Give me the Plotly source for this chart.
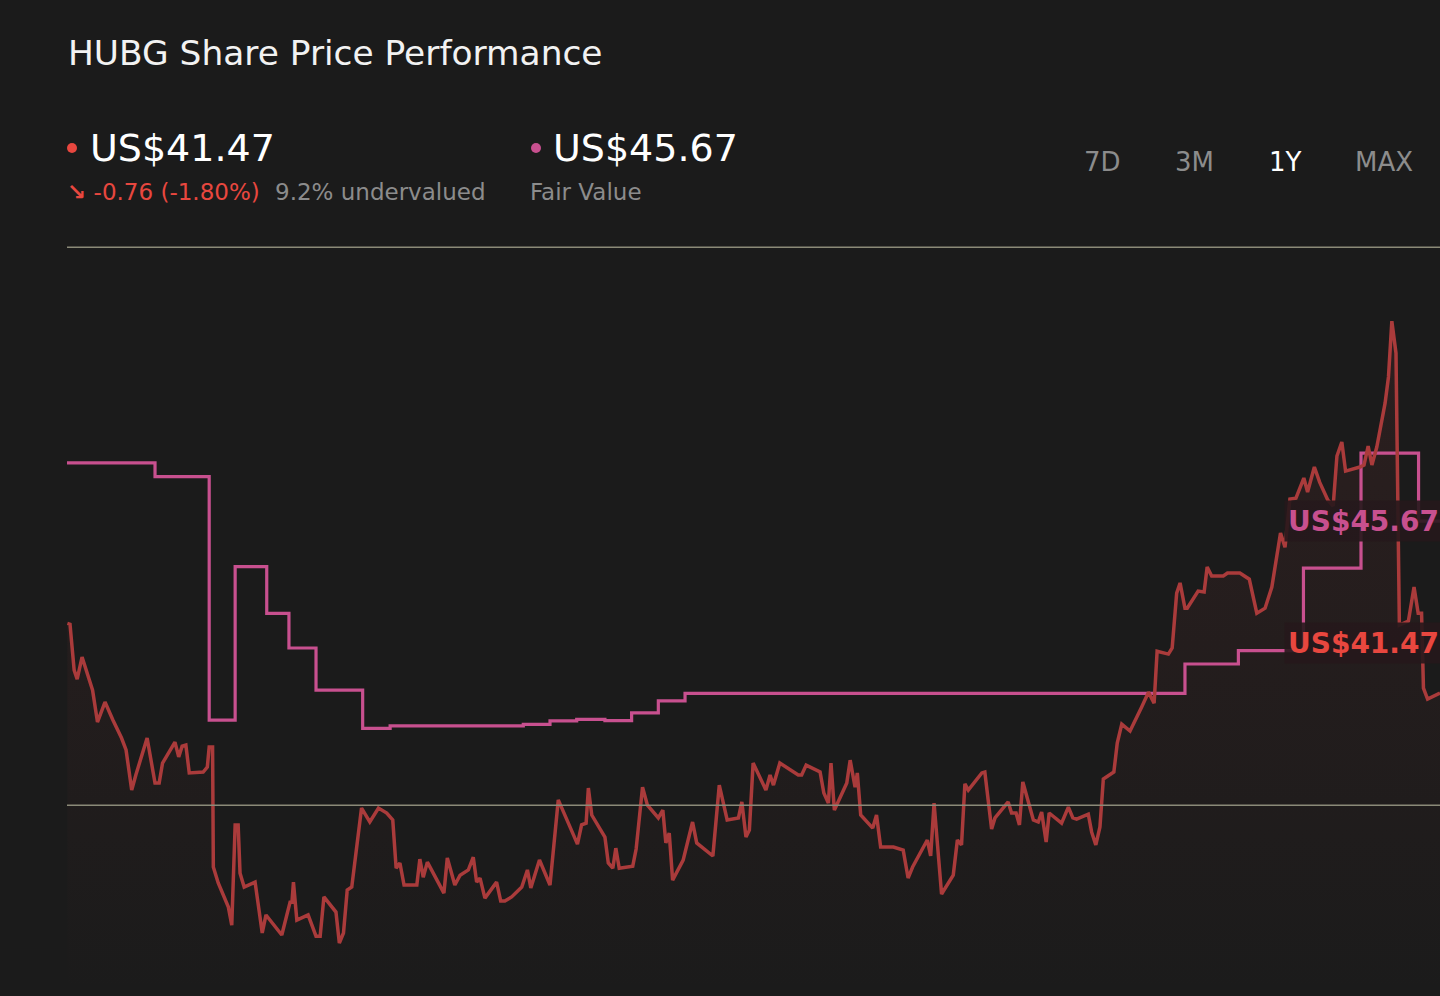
import pandas as pd
import plotly.graph_objects as go

W, H = 1440, 996
ML, MT = 67, 230  # plot area starts here (px)

window_start = pd.Timestamp("2025-02-20")

# daily closes (days since window start, US$)
price_days = [
    0.1, 0.8, 1.9, 2.7, 4.0, 5.4, 6.8, 8.1, 10.1, 12.2,
    14.5, 15.7, 17.2, 18.3, 21.3, 23.4, 24.5, 25.4, 28.7, 29.7,
    30.6, 31.6, 32.5, 36.2, 37.3, 37.8, 38.7, 38.9, 40.2, 42.9,
    43.8, 44.7, 45.5, 46.0, 47.1, 50.0, 51.9, 52.9, 57.1, 59.3,
    59.8, 60.2, 61.1, 64.1, 66.2, 67.3, 68.3, 71.5, 72.4, 73.5,
    74.5, 75.7, 78.3, 80.5, 82.8, 85.0, 86.6, 87.5, 88.5, 89.6,
    93.0, 93.8, 94.7, 95.8, 100.2, 101.1, 103.1, 104.5, 106.7, 108.0,
    108.9, 109.8, 111.1, 114.2, 115.3, 116.4, 118.2, 120.9, 122.4, 123.3,
    125.6, 128.4, 130.6, 135.7, 136.8, 138.0, 138.6, 139.5, 143.0, 143.9,
    145.1, 145.9, 146.8, 150.4, 151.3, 153.0, 154.3, 157.2, 158.4, 159.2,
    160.1, 161.0, 163.8, 166.3, 167.4, 171.7, 173.4, 175.5, 178.5, 179.4,
    180.5, 181.4, 182.4, 185.8, 186.9, 187.8, 189.5, 194.4, 195.3, 196.5,
    200.2, 201.2, 202.4, 203.1, 204.0, 207.3, 208.2, 209.5, 210.1, 211.0,
    214.2, 215.2, 216.3, 219.7, 222.3, 223.6, 224.8, 228.7, 229.6, 230.5,
    232.5, 235.6, 236.7, 237.8, 238.7, 239.6, 243.2, 244.0, 245.8, 246.7,
    250.2, 251.1, 252.3, 253.2, 254.1, 256.9, 258.2, 259.1, 260.3, 261.1,
    264.4, 266.2, 267.4, 268.4, 271.5, 272.4, 273.5, 274.6, 275.5, 278.3,
    279.2, 280.4, 282.6, 285.7, 287.5, 289.0, 289.8, 292.8, 293.8, 295.0,
    295.9, 297.2, 297.8, 300.7, 302.3, 303.1, 304.3, 307.4, 308.5, 311.8,
    314.3, 316.3, 318.5, 320.3, 321.7, 322.6, 323.8, 325.1, 326.7, 328.8,
    329.8, 331.6, 333.0, 335.2, 336.6, 337.6, 338.9, 339.9, 343.7, 344.8,
    345.9, 346.9, 348.2, 350.4, 351.3, 352.2, 353.3, 354.2, 356.6, 358.1,
    359.2, 360.1, 360.6, 361.7, 365.0,
]
price_values = [
    42.15, 42.12, 40.54, 40.23, 40.99, 40.44, 39.85, 38.75, 39.44, 38.82,
    38.20, 37.79, 36.41, 36.93, 38.20, 36.65, 36.65, 37.34, 38.06, 37.55,
    37.92, 37.96, 37.00, 37.03, 37.20, 37.89, 37.89, 33.76, 33.21, 32.38,
    31.76, 35.21, 35.21, 33.55, 33.07, 33.24, 31.49, 32.11, 31.42, 32.55,
    32.55, 33.24, 31.93, 32.11, 31.38, 31.38, 32.73, 32.21, 31.14, 31.49,
    32.97, 33.07, 35.79, 35.31, 35.79, 35.62, 35.38, 33.72, 33.90, 33.14,
    33.14, 34.03, 33.41, 33.93, 32.86, 34.07, 33.14, 33.48, 33.66, 34.10,
    33.24, 33.38, 32.69, 33.24, 32.59, 32.59, 32.73, 33.07, 33.66, 33.04,
    34.00, 33.14, 36.07, 34.55, 35.21, 35.27, 36.48, 35.55, 34.79, 33.90,
    33.72, 34.41, 33.72, 33.79, 34.38, 36.51, 35.89, 35.45, 35.72, 34.59,
    34.93, 33.31, 34.00, 35.31, 34.59, 34.14, 36.58, 35.38, 35.45, 36.00,
    34.79, 35.03, 37.34, 36.41, 36.93, 36.58, 37.34, 36.93, 36.93, 37.27,
    37.03, 36.31, 35.96, 37.34, 35.72, 36.65, 37.44, 36.51, 37.00, 35.55,
    35.10, 35.55, 34.45, 34.45, 34.34, 33.38, 33.76, 34.69, 34.14, 35.96,
    32.83, 33.48, 34.69, 34.52, 36.62, 36.41, 37.00, 37.03, 35.07, 35.45,
    36.00, 35.62, 35.62, 35.21, 36.69, 35.38, 35.31, 35.65, 34.62, 35.62,
    35.27, 35.82, 35.45, 35.41, 35.58, 34.96, 34.52, 35.14, 36.79, 37.03,
    38.03, 38.68, 38.44, 39.27, 39.78, 39.40, 41.19, 41.09, 41.30, 43.19,
    43.54, 42.67, 42.67, 43.26, 43.23, 44.09, 43.78, 43.78, 43.88, 43.88,
    43.67, 42.50, 42.67, 43.40, 44.43, 45.26, 44.77, 46.43, 46.46, 47.15,
    46.67, 47.53, 47.01, 46.39, 46.19, 47.91, 48.39, 47.39, 47.53, 47.60,
    48.25, 47.60, 48.22, 49.73, 50.63, 52.55, 51.45, 42.09, 42.23, 43.40,
    42.50, 42.50, 39.92, 39.54, 39.75,
]

# fair value estimate steps (day it changed, US$)
fv_days = [0, 23.4, 37.8, 44.7, 53.1, 59.0, 66.2, 78.6, 85.9, 121.3,
           128.4, 135.5, 143.0, 150.1, 157.2, 164.3, 297.2, 311.4, 328.7, 344.0,
           359.3]
fv_values = [47.67, 47.20, 38.82, 44.10, 42.49, 41.30, 39.85, 38.53, 38.62, 38.67,
             38.79, 38.84, 38.80, 39.07, 39.48, 39.74, 40.75, 41.21, 44.05, 48.01,
             45.67]

current_price = 41.47
fair_value = 45.67
change_abs = -0.76
change_pct = -1.80
undervalued_pct = 9.2
guide_levels = [55.10, 35.89]
periods = ["7D", "3M", "1Y", "MAX"]
active_period = "1Y"
y_range = [29.32, 55.69]
window_days = 365

BG = "#1b1b1b"
RED = "#aa3b3b"
RED_TXT = "#e8473f"
PINK = "#c8508f"
GREY = "#8c8c8c"
FONT = "DejaVu Sans"


def px_x(x):
    return (x - ML) / (W - ML)


def px_y(y):
    return (H - y) / (H - MT)


price_x = window_start + pd.to_timedelta(price_days, unit="D")
fv_x = window_start + pd.to_timedelta(fv_days + [window_days], unit="D")
fv_y = fv_values + [fv_values[-1]]

fig = go.Figure()

# soft shading under the price line, fading out downwards
fig.add_trace(go.Scatter(x=price_x, y=price_values, mode="lines", line=dict(width=0),
                         fill="tozeroy", hoverinfo="skip",
                         fillgradient=dict(type="vertical", start=y_range[0], stop=max(price_values),
                                           colorscale=[[0, "rgba(170,60,60,0.0)"],
                                                       [1, "rgba(170,60,60,0.12)"]])))
fig.add_trace(go.Scatter(x=fv_x, y=fv_y, mode="lines", line=dict(color=PINK, width=3.2, shape="hv"),
                         name="Fair Value"))
fig.add_trace(go.Scatter(x=price_x, y=price_values, mode="lines", line=dict(color=RED, width=3.5),
                         name="Share Price"))

for lvl in guide_levels:
    fig.add_hline(y=lvl, line=dict(color="#8b8a78", width=1.5))

ann = []
ann.append(dict(text="HUBG Share Price Performance", x=px_x(66), y=px_y(53), xanchor="left",
                yanchor="middle", font=dict(size=34.4, color="#f2f2f2")))
ann.append(dict(text=f"US${current_price:.2f}", x=px_x(88), y=px_y(148), xanchor="left",
                yanchor="middle", font=dict(size=38, color="#ffffff")))
ann.append(dict(text=f"US${fair_value:.2f}", x=px_x(551), y=px_y(148), xanchor="left",
                yanchor="middle", font=dict(size=38, color="#ffffff")))
ann.append(dict(text=f"<b>↘</b> {change_abs:.2f} ({change_pct:.2f}%)", x=px_x(65), y=px_y(192),
                xanchor="left", yanchor="middle", font=dict(size=23, color=RED_TXT)))
ann.append(dict(text=f"{undervalued_pct}% undervalued", x=px_x(273), y=px_y(192),
                xanchor="left", yanchor="middle", font=dict(size=23, color=GREY)))
ann.append(dict(text="Fair Value", x=px_x(528), y=px_y(192), xanchor="left",
                yanchor="middle", font=dict(size=23, color=GREY)))
for label, cx in zip(periods, [1102, 1194, 1285, 1384]):
    ann.append(dict(text=label, x=px_x(cx), y=px_y(162), xanchor="center", yanchor="middle",
                    font=dict(size=26, color="#ffffff" if label == active_period else GREY)))

# value tags at the right edge
for val, col in [(fair_value, PINK), (current_price, RED_TXT)]:
    ann.append(dict(text=f"<b>US${val:.2f}</b>", x=px_x(1284), xref="paper", y=val, yref="y",
                    xanchor="left", yanchor="middle", font=dict(size=28, color=col),
                    width=190, height=34, align="left", borderpad=3,
                    bgcolor="rgba(38,24,28,0.9)"))

for a in ann:
    a.setdefault("xref", "paper")
    a.setdefault("yref", "paper")
    a["showarrow"] = False
    fig.add_annotation(**a)

for cx, col in [(72, RED_TXT), (536, PINK)]:
    fig.add_shape(type="circle", xref="paper", yref="paper", xsizemode="pixel", ysizemode="pixel",
                  xanchor=px_x(cx), yanchor=px_y(148), x0=-5, x1=5, y0=-5, y1=5,
                  fillcolor=col, line=dict(width=0))

fig.update_layout(
    width=W, height=H,
    margin=dict(l=ML, r=0, t=MT, b=0, pad=0),
    paper_bgcolor=BG, plot_bgcolor=BG,
    font=dict(family=FONT),
    showlegend=False,
    xaxis=dict(range=[window_start, window_start + pd.Timedelta(days=window_days)],
               visible=False, showgrid=False, zeroline=False),
    yaxis=dict(range=y_range, visible=False, showgrid=False, zeroline=False),
)

fig.write_html("out.html", config={"displayModeBar": False},
               post_script="document.body.style.margin='0';document.body.style.background='#1b1b1b';")
